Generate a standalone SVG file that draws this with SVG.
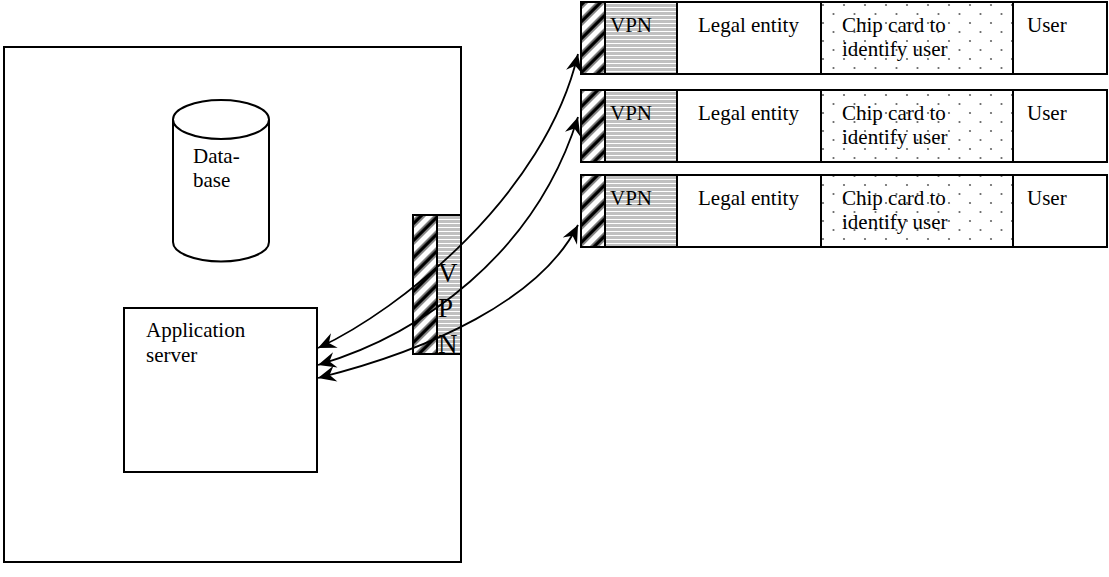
<svg xmlns="http://www.w3.org/2000/svg" width="1109" height="577" viewBox="0 0 1109 577">
<style>
.box{fill:#fff;stroke:#000;stroke-width:2}
.hatch{fill:url(#hatch);stroke:#000;stroke-width:2}
.grey{fill:url(#greyl);stroke:#000;stroke-width:2}
.dots{fill:url(#dots);stroke:#000;stroke-width:2}
.t{font-size:21px;fill:#000}
.big{font-size:27px;fill:#000}
.conn{fill:none;stroke:#000;stroke-width:1.8;marker-start:url(#ah);marker-end:url(#ah)}
</style>
<defs>
<pattern id="hatch" patternUnits="userSpaceOnUse" width="12" height="12" patternTransform="rotate(45)">
<rect width="12" height="12" fill="#fff"/>
<rect x="3" width="1.5" height="12" fill="#888"/>
<rect x="4.5" width="4" height="12" fill="#000"/>
<rect x="8.5" width="1.5" height="12" fill="#888"/>
</pattern>
<pattern id="greyl" patternUnits="userSpaceOnUse" width="8" height="4">
<rect width="8" height="4" fill="#c0c0c0"/>
<rect y="3" width="8" height="1" fill="#fff"/>
</pattern>
<pattern id="dots" patternUnits="userSpaceOnUse" x="820" y="2" width="21" height="18">
<rect width="21" height="18" fill="#fff"/>
<circle cx="3" cy="3" r="1.1" fill="#666"/>
<circle cx="13.5" cy="12" r="1.1" fill="#666"/>
</pattern>
<marker id="ah" viewBox="-20 -10 22 20" refX="0" refY="0" markerWidth="22" markerHeight="20" markerUnits="userSpaceOnUse" orient="auto-start-reverse">
<path d="M0,0 L-18,-8 L-12,0 L-18,8 Z" fill="#000"/>
</marker>
</defs>

<g font-family="'Liberation Serif', 'Times New Roman', Times, 'DejaVu Serif', serif">
<g id="site">
<rect class="box" x="4" y="47" width="457" height="515"/>
</g>

<g id="database">
<path class="box" d="M173,119.5 A48,19.5 0 0 1 269,119.5 V242 A48,19.5 0 0 1 173,242 Z"/>
<path fill="none" stroke="#000" stroke-width="2" d="M173,119.5 A48,19.5 0 0 0 269,119.5"/>
<text class="t" x="193" y="163">Data-</text>
<text class="t" x="193" y="187">base</text>
</g>

<g id="app-server">
<rect class="box" x="124" y="308" width="193" height="164"/>
<text class="t" x="146" y="337">Application</text>
<text class="t" x="146" y="362">server</text>
</g>

<g id="vpn-gateway">
<rect class="hatch" x="413" y="215" width="24" height="139"/>
<rect class="grey" x="437" y="215" width="24" height="139"/>
<text class="big" x="438" y="282">V</text>
<text class="big" x="438" y="317">P</text>
<text class="big" x="438" y="353">N</text>
</g>

<g id="client-1">
<rect class="hatch" x="581" y="2" width="24" height="72"/>
<rect class="grey" x="605" y="2" width="72" height="72"/>
<rect class="box" x="677" y="2" width="144" height="72"/>
<rect class="dots" x="821" y="2" width="192" height="72"/>
<rect class="box" x="1013" y="2" width="94" height="72"/>
<text class="t" x="610" y="32">VPN</text>
<text class="t" x="698" y="32">Legal entity</text>
<text class="t" x="842" y="32">Chip card to</text>
<text class="t" x="842" y="56">identify user</text>
<text class="t" x="1027" y="32">User</text>
</g>

<g id="client-2">
<rect class="hatch" x="581" y="90" width="24" height="72"/>
<rect class="grey" x="605" y="90" width="72" height="72"/>
<rect class="box" x="677" y="90" width="144" height="72"/>
<rect class="dots" x="821" y="90" width="192" height="72"/>
<rect class="box" x="1013" y="90" width="94" height="72"/>
<text class="t" x="610" y="120">VPN</text>
<text class="t" x="698" y="120">Legal entity</text>
<text class="t" x="842" y="120">Chip card to</text>
<text class="t" x="842" y="144">identify user</text>
<text class="t" x="1027" y="120">User</text>
</g>

<g id="client-3">
<rect class="hatch" x="581" y="175" width="24" height="72"/>
<rect class="grey" x="605" y="175" width="72" height="72"/>
<rect class="box" x="677" y="175" width="144" height="72"/>
<rect class="dots" x="821" y="175" width="192" height="72"/>
<rect class="box" x="1013" y="175" width="94" height="72"/>
<text class="t" x="610" y="205">VPN</text>
<text class="t" x="698" y="205">Legal entity</text>
<text class="t" x="842" y="205">Chip card to</text>
<text class="t" x="842" y="229">identify user</text>
<text class="t" x="1027" y="205">User</text>
</g>
</g>

<g id="connectors">
<path class="conn" d="M318,348 C400,310 545,195 578,54"/>
<path class="conn" d="M318,365 C420,335 535,255 578,117"/>
<path class="conn" d="M318,378 C430,350 540,300 578,225"/>
</g>
</svg>
